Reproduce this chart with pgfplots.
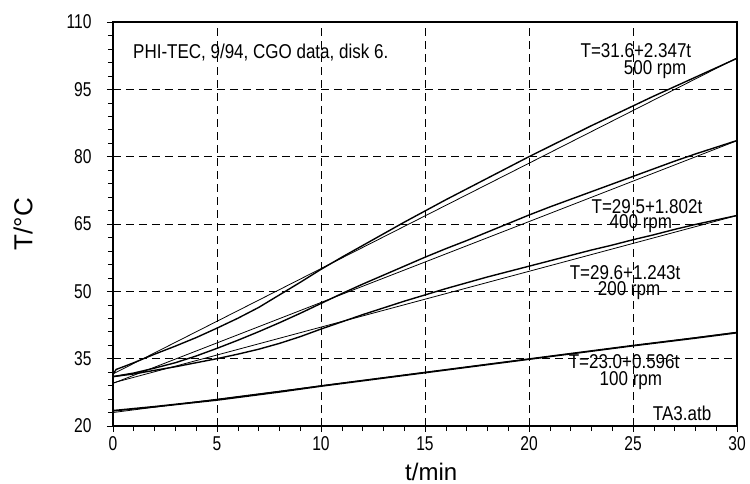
\documentclass[border=0pt]{standalone}
\usepackage{fontspec}
\setmainfont{Liberation Sans}
\newfontfamily\condfont{Liberation Sans}[FakeStretch=0.85]
\newfontfamily\tickfont{Liberation Sans}[FakeStretch=0.78]
\usepackage{pgfplots}
\pgfplotsset{compat=1.18}

\pgfplotstableread{
t T
0 31.5
0.15 32.6
0.5 33.2
1 34.1
2 36.0
3 37.8
4 39.7
5 41.8
6 44.0
7 46.4
8 49.2
9 52.0
10 54.9
11 57.6
12 60.2
13 62.8
14 65.4
15 67.9
16 70.4
17 72.8
18 75.2
19 77.6
20 80.0
21 82.3
22 84.6
23 86.9
24 89.1
25 91.3
26 93.5
27 95.6
28 97.7
29 99.8
30 101.9
}\dataA

\pgfplotstableread{
t T
0 31.0
1 31.8
2 32.9
3 34.1
4 35.6
5 37.3
6 39.1
7 41.0
8 43.0
9 45.1
10 47.3
11 49.5
12 51.6
13 53.6
14 55.6
15 57.6
16 59.5
17 61.3
18 63.2
19 65.1
20 67.0
21 68.8
22 70.5
23 72.2
24 73.9
25 75.6
26 77.3
27 79.0
28 80.6
29 82.1
30 83.6
}\dataB

\pgfplotstableread{
t T
0 31.0
1 31.6
2 32.4
3 33.2
4 34.1
5 35.0
6 36.0
7 37.1
8 38.4
9 39.9
10 41.6
11 43.2
12 44.8
13 46.3
14 47.8
15 49.2
16 50.6
17 51.9
18 53.2
19 54.4
20 55.6
21 56.8
22 58.0
23 59.2
24 60.3
25 61.5
26 62.6
27 63.8
28 64.9
29 65.9
30 66.9
}\dataC

\pgfplotstableread{
t T
0 23.4
2 24.3
5 25.8
8 27.6
10 28.9
12 30.1
15 31.9
18 33.7
20 34.9
22 36.1
25 37.9
28 39.6
30 40.8
}\dataD

\begin{document}
\begin{tikzpicture}
\path[use as bounding box] (-113bp,-58bp) rectangle (637bp,426bp);
\begin{axis}[
  at={(0,0)}, anchor=south west,
  scale only axis, width=624bp, height=404bp,
  xmin=0, xmax=30, ymin=20, ymax=110,
  xtick={0,5,...,30}, ytick={20,35,...,110},
  minor x tick num=4, minor y tick num=4,
  tick align=outside, xtick pos=bottom, ytick pos=left,
  major tick length=6bp, minor tick length=5bp,
  axis line style={line width=1.2pt},
  every tick/.style={line width=0.6pt, black},
  grid=major,
  major grid style={dash pattern=on 8bp off 5bp, line width=0.5pt, black},
  /pgf/number format/assume math mode=true,
  tick label style={font=\tickfont\fontsize{20bp}{23bp}\selectfont},
  yticklabel style={xshift=-12bp},
  xticklabel style={yshift=-1bp},
  xlabel={t/min}, ylabel={T/°C},
  xlabel style={at={(axis description cs:0.51,-0.1337)}, anchor=base, font=\fontsize{24bp}{28bp}\selectfont},
  ylabel style={at={(axis description cs:-0.1442,0.5)}, anchor=center, font=\fontsize{26bp}{30bp}\selectfont},
  clip=true,
]
\addplot[black, line width=1.4pt] table {\dataA};
\addplot[black, line width=1.4pt] table {\dataB};
\addplot[black, line width=1.4pt] table {\dataC};
\addplot[black, line width=1.8pt] table {\dataD};
\addplot[black, line width=0.8pt] coordinates {(0,31.6) (30,102.01)};
\addplot[black, line width=0.8pt] coordinates {(0,29.5) (30,83.56)};
\addplot[black, line width=0.8pt] coordinates {(0,29.6) (30,66.89)};
\addplot[black, line width=0.8pt] coordinates {(0,23.0) (30,40.88)};

\tikzset{lab/.style={anchor=base, inner sep=0pt, font=\condfont\fontsize{20bp}{23bp}\selectfont}}
\node[lab, anchor=base west] at (axis cs:0.96,101.97) {PHI-TEC, 9/94, CGO data, disk 6.};
\node[lab] at (axis cs:25.14,102.2) {T=31.6+2.347t};
\node[lab] at (axis cs:26.06,98.41) {500 rpm};
\node[lab] at (axis cs:25.67,67.4) {T=29.5+1.802t};
\node[lab] at (axis cs:25.38,63.95) {400 rpm};
\node[lab] at (axis cs:24.62,52.6) {T=29.6+1.243t};
\node[lab] at (axis cs:24.81,49.15) {200 rpm};
\node[lab] at (axis cs:24.57,32.87) {T=23.0+0.596t};
\node[lab] at (axis cs:24.90,29.08) {100 rpm};
\node[lab] at (axis cs:27.36,21.28) {TA3.atb};
\end{axis}
\end{tikzpicture}
\end{document}
